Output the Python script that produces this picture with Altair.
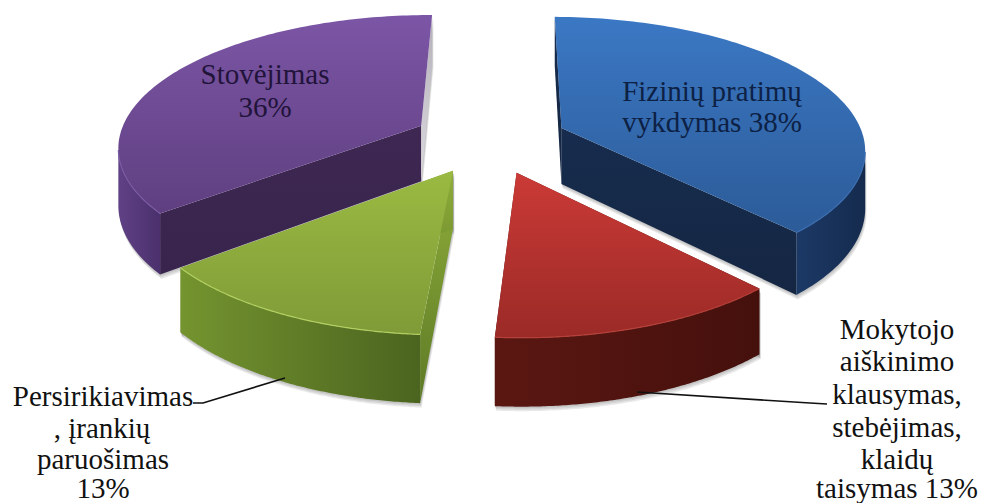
import numpy as np
import altair as alt

# Pie content
categories = ["Fizinių pratimų vykdymas", "Mokytojo aiškinimas", "Persirikiavimas", "Stovėjimas"]
shares = [38, 13, 13, 36]

# Text lines of the data labels
label_lines = [
    "Fizinių pratimų", "vykdymas 38%",
    "Stovėjimas", "36%",
    "Persirikiavimas", ", įrankių", "paruošimas", "13%",
    "Mokytojo", "aiškinimo", "klausymas,", "stebėjimas,", "klaidų", "taisymas 13%",
]
label_x = [712, 712, 265, 265, 103, 102, 103, 103, 897, 897, 897, 897, 897, 897]
label_y = [92, 123, 75, 108, 397, 429, 460, 489, 330, 362, 395, 428, 460, 489]
label_color = ["#0d2145", "#0d2145", "#21133a", "#21133a"] + ["#111111"] * 10

# Leader lines
leaders = [
    [[193, 403], [203, 403], [285, 378]],
    [[637, 392], [810, 403], [827, 404]],
]

# Perspective camera and slice geometry
CX, CY = 490.0, 140.0
RX, RY = 303.0, 130.6
PERSPECTIVE = 0.145
EXPLODE = 0.256
DEPTH = 56.5
ROTATION = 0.5

# One style block per slice, same order as the shares
styles = [
    dict(top=("#3b78c4", "#2c5b98"), rim=("#1c3966", "#152b4e"), wall=("#172c4e", "#142642"),
         end=("#172c4e", "#142642"), edge="#3a6db0"),
    dict(top=("#cb3a36", "#9b2a27"), rim=("#5b1712", "#45100c"), wall=("#5b1712", "#45100c"),
         end=("#5b1712", "#45100c"), edge="#b5403a"),
    dict(top=("#9aba42", "#7f9b38"), rim=("#74942f", "#4b641f"), wall=("#8fae3a", "#5d7a26"),
         end=("#8fae3a", "#5d7a26"), edge="#b2cf62"),
    dict(top=("#7c56a6", "#5f3f80"), rim=("#604186", "#4a306c"), wall=("#3e2853", "#38244c"),
         end=("#b4afba", "#dcdadf"), edge="#7a5aa2"),
]


def project(px, py):
    s = 1.0 / (1.0 + PERSPECTIVE * py)
    return CX + RX * px * s, CY - RY * py * s, s


def slice_outline(start_deg, end_deg):
    """Apex and arc points of a slice, pushed outward along its middle angle."""
    mid = np.radians((start_deg + end_deg) / 2)
    ox, oy = EXPLODE * np.sin(mid), EXPLODE * np.cos(mid)
    theta = np.radians(np.linspace(start_deg, end_deg, 120))
    ax, ay, a_s = project(ox + np.sin(theta), oy + np.cos(theta))
    cx, cy, c_s = project(np.array(ox), np.array(oy))
    return (float(cx), float(cy), float(c_s)), ax, ay, a_s


def polygon_feature(points):
    ring = [[float(x), float(y)] for x, y in points]
    ring.append(ring[0])
    return {"type": "Feature", "properties": {}, "geometry": {"type": "Polygon", "coordinates": [ring]}}


def shape(points, colors, horizontal=False):
    grad = alt.LinearGradient(
        gradient="linear",
        x1=0, y1=0,
        x2=1 if horizontal else 0,
        y2=0 if horizontal else 1,
        stops=[alt.GradientStop(color=colors[0], offset=0), alt.GradientStop(color=colors[1], offset=1)],
    )
    return alt.Chart(alt.Data(values=[polygon_feature(points)])).mark_geoshape(fill=grad, strokeWidth=0)


def soft_shadow(points):
    """Stacked, faint, shifted copies of a shape that read as a soft drop shadow."""
    copies = []
    for step in (1.5, 3.0, 4.5):
        moved = [(x + step * 0.3, y + step) for x, y in points]
        copies.append(
            alt.Chart(alt.Data(values=[polygon_feature(moved)]))
            .mark_geoshape(fill="#555555", fillOpacity=0.13, strokeWidth=0)
        )
    return copies


def edge_line(xs, ys, color):
    coords = [[float(x), float(y)] for x, y in zip(xs, ys)]
    line = {"type": "Feature", "properties": {}, "geometry": {"type": "LineString", "coordinates": coords}}
    return alt.Chart(alt.Data(values=[line])).mark_geoshape(filled=False, stroke=color, strokeWidth=1.2)


def wall_points(apex, x, y, s):
    return [(apex[0], apex[1]), (x, y), (x, y + DEPTH * s), (apex[0], apex[1] + DEPTH * apex[2])]


bounds = np.cumsum([0] + shares) * 3.6 + ROTATION
pie_parts = {}
for i, name in enumerate(categories):
    apex, ax, ay, a_s = slice_outline(bounds[i], bounds[i + 1])
    st = styles[i]
    first_wall = wall_points(apex, ax[0], ay[0], a_s[0])
    last_wall = wall_points(apex, ax[-1], ay[-1], a_s[-1])

    # The outer side is seen only where the arc runs right to left
    front = np.append(np.diff(ax) < 0, np.diff(ax)[-1] < 0)
    fx, fy, fs = ax[front], ay[front], a_s[front]
    rim = list(zip(fx, fy)) + list(zip(fx[::-1], (fy + DEPTH * fs)[::-1]))

    parts = soft_shadow(rim) + soft_shadow(first_wall) + soft_shadow(last_wall)
    parts.append(shape(first_wall, st["end"] if i == 0 else st["wall"]))
    parts.append(shape(last_wall, st["end"] if i == 3 else st["wall"]))
    parts.append(shape(rim, st["rim"], horizontal=True))
    parts.append(shape([(apex[0], apex[1])] + list(zip(ax, ay)), st["top"]))
    parts.append(edge_line(fx, fy, st["edge"]))
    pie_parts[name] = parts

# Back slices first so the front ones overlap them
layers = []
for i in [3, 0, 2, 1]:
    layers.extend(pie_parts[categories[i]])

for path in leaders:
    rows = [{"lon": p[0], "lat": p[1], "k": n} for n, p in enumerate(path)]
    layers.append(
        alt.Chart(alt.Data(values=rows))
        .mark_line(color="#111111", strokeWidth=1.6)
        .encode(longitude="lon:Q", latitude="lat:Q", order="k:Q")
    )

label_rows = [
    {"t": t, "lon": x, "lat": y, "c": c}
    for t, x, y, c in zip(label_lines, label_x, label_y, label_color)
]
layers.append(
    alt.Chart(alt.Data(values=label_rows))
    .mark_text(font="Liberation Serif", fontSize=29, align="center", baseline="middle")
    .encode(longitude="lon:Q", latitude="lat:Q", text="t:N", color=alt.Color("c:N", scale=None))
)

chart = (
    alt.layer(*layers)
    .project(type="identity", scale=1, translate=[0, 0])
    .properties(width=984, height=503, padding=0, background="white")
    .configure_view(stroke=None)
)

chart.save("out.html", embed_options={"renderer": "svg", "actions": False})
